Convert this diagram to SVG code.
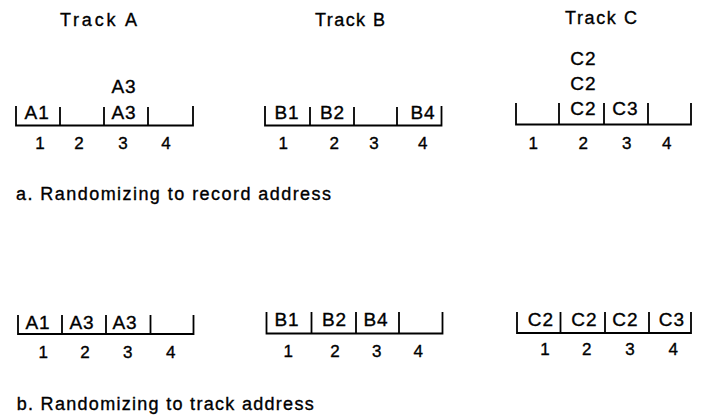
<svg xmlns="http://www.w3.org/2000/svg" width="702" height="415" viewBox="0 0 702 415">
<style>
text { font-family: "Liberation Sans", Arial, sans-serif; fill: #000; stroke: #000; stroke-width: 0.35; }
.title { font-size: 18px; }
.lbl { font-size: 19px; text-anchor: middle; letter-spacing: 1px; }
.num { font-size: 17px; text-anchor: middle; }
.cap { font-size: 18px; }
.trk { fill: none; stroke: #000; stroke-width: 1.8; }
</style>
<rect width="702" height="415" fill="#fff"/>
<g id="connectors"/>

<g id="title-a"><text class="title" x="60" y="26" textLength="77" lengthAdjust="spacing">Track A</text></g>
<g id="title-b"><text class="title" x="315" y="26" textLength="70" lengthAdjust="spacing">Track B</text></g>
<g id="title-c"><text class="title" x="565" y="24" textLength="72" lengthAdjust="spacing">Track C</text></g>

<g id="rec-track-a">
<path class="trk" d="M16,106 V125.5 H193 V106 M60,107 V125.5 M104,107 V125.5 M148,107 V125.5"/>
<text class="lbl" x="37.2" y="119">A1</text>
<text class="lbl" x="124" y="119">A3</text>
<text class="lbl" x="124" y="93">A3</text>
<text class="num" x="40" y="149">1</text>
<text class="num" x="79" y="149">2</text>
<text class="num" x="123" y="149">3</text>
<text class="num" x="166" y="149">4</text>
</g>

<g id="rec-track-b">
<path class="trk" d="M265,106 V125.5 H441.5 V106 M310,107 V125.5 M354,107 V125.5 M397,107 V125.5"/>
<text class="lbl" x="287" y="119">B1</text>
<text class="lbl" x="332.5" y="119">B2</text>
<text class="lbl" x="423" y="119">B4</text>
<text class="num" x="283.3" y="149">1</text>
<text class="num" x="334.3" y="149">2</text>
<text class="num" x="374" y="149">3</text>
<text class="num" x="422.7" y="149">4</text>
</g>

<g id="rec-track-c">
<path class="trk" d="M516,103 V124.5 H691 V103 M559,103 V124.5 M604,103 V124.5 M648,103 V124.5"/>
<text class="lbl" x="583.5" y="65">C2</text>
<text class="lbl" x="583.5" y="90">C2</text>
<text class="lbl" x="583.5" y="114.5">C2</text>
<text class="lbl" x="625.5" y="114.5">C3</text>
<text class="num" x="533.3" y="148.5">1</text>
<text class="num" x="583.3" y="148.5">2</text>
<text class="num" x="626.7" y="148.5">3</text>
<text class="num" x="666.7" y="148.5">4</text>
</g>

<g id="caption-a"><text class="cap" x="16" y="200" textLength="315" lengthAdjust="spacing">a.  Randomizing to record address</text></g>

<g id="trk-track-a">
<path class="trk" d="M18,315 V334 H193.5 V315 M62,315 V334 M106,315 V334 M150.5,315 V334"/>
<text class="lbl" x="38" y="329">A1</text>
<text class="lbl" x="82" y="329">A3</text>
<text class="lbl" x="125" y="329">A3</text>
<text class="num" x="43.3" y="358">1</text>
<text class="num" x="85" y="358">2</text>
<text class="num" x="127.7" y="358">3</text>
<text class="num" x="170.7" y="358">4</text>
</g>

<g id="trk-track-b">
<path class="trk" d="M266.5,312 V333.5 H442.5 V312 M311.5,312 V333.5 M356,312 V333.5 M399,312 V333.5"/>
<text class="lbl" x="287" y="326">B1</text>
<text class="lbl" x="334.5" y="326">B2</text>
<text class="lbl" x="376" y="326">B4</text>
<text class="num" x="288.3" y="356.5">1</text>
<text class="num" x="335" y="356.5">2</text>
<text class="num" x="376.7" y="356.5">3</text>
<text class="num" x="418.3" y="356.5">4</text>
</g>

<g id="trk-track-c">
<path class="trk" d="M517,312 V333 H691 V312 M560.5,312 V333 M605,312 V333 M649,312 V333"/>
<text class="lbl" x="541" y="326">C2</text>
<text class="lbl" x="584.5" y="326">C2</text>
<text class="lbl" x="625.5" y="326">C2</text>
<text class="lbl" x="672" y="326">C3</text>
<text class="num" x="545" y="355">1</text>
<text class="num" x="586.7" y="355">2</text>
<text class="num" x="630" y="355">3</text>
<text class="num" x="673.3" y="355">4</text>
</g>

<g id="caption-b"><text class="cap" x="16.7" y="410" textLength="297" lengthAdjust="spacing">b.  Randomizing to track address</text></g>
</svg>
